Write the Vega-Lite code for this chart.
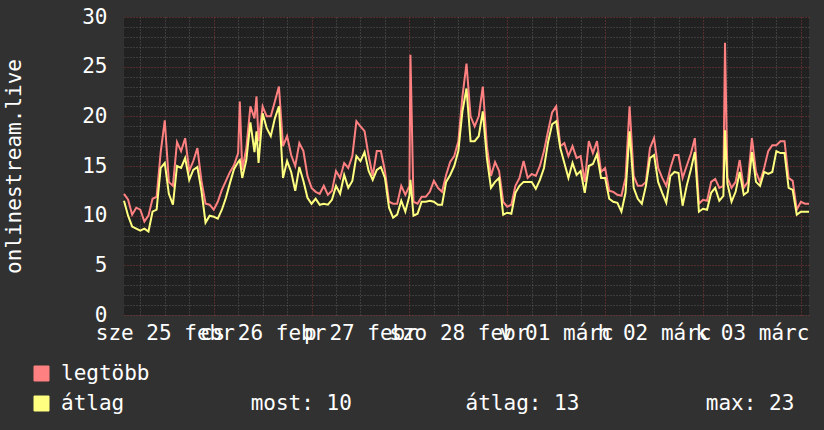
{
"$schema": "https://vega.github.io/schema/vega-lite/v6.json",
"width": 685, "height": 298,
"autosize": {"type": "none"},
"padding": {"left": 124, "top": 17, "right": 15, "bottom": 115},
"background": "#313131",
"config": {"view": {"fill": "#212121", "stroke": null}, "font": "DejaVu Sans Mono"},
"data": {"values": [
{"t":"2015-02-25T02:00","max":12.2,"avg":11.5},
{"t":"2015-02-25T03:00","max":11.6,"avg":10.0},
{"t":"2015-02-25T04:00","max":10.1,"avg":8.9},
{"t":"2015-02-25T05:00","max":10.8,"avg":8.7},
{"t":"2015-02-25T06:00","max":10.6,"avg":8.5},
{"t":"2015-02-25T07:00","max":9.4,"avg":8.7},
{"t":"2015-02-25T08:00","max":10.0,"avg":8.4},
{"t":"2015-02-25T09:00","max":11.7,"avg":10.4},
{"t":"2015-02-25T10:00","max":11.9,"avg":10.6},
{"t":"2015-02-25T11:00","max":16.4,"avg":14.8},
{"t":"2015-02-25T12:00","max":19.6,"avg":15.3},
{"t":"2015-02-25T13:00","max":13.4,"avg":12.2},
{"t":"2015-02-25T14:00","max":13.0,"avg":11.1},
{"t":"2015-02-25T15:00","max":17.4,"avg":15.0},
{"t":"2015-02-25T16:00","max":16.5,"avg":14.8},
{"t":"2015-02-25T17:00","max":17.8,"avg":15.8},
{"t":"2015-02-25T18:00","max":14.5,"avg":13.6},
{"t":"2015-02-25T19:00","max":15.5,"avg":14.6},
{"t":"2015-02-25T20:00","max":16.8,"avg":14.9},
{"t":"2015-02-25T21:00","max":13.5,"avg":12.5},
{"t":"2015-02-25T22:00","max":11.2,"avg":9.3},
{"t":"2015-02-25T23:00","max":11.1,"avg":10.0},
{"t":"2015-02-26T00:00","max":10.6,"avg":9.9},
{"t":"2015-02-26T01:00","max":11.4,"avg":9.7},
{"t":"2015-02-26T02:00","max":12.6,"avg":10.6},
{"t":"2015-02-26T03:00","max":13.5,"avg":11.8},
{"t":"2015-02-26T04:00","max":14.4,"avg":13.3},
{"t":"2015-02-26T05:00","max":15.1,"avg":14.7},
{"t":"2015-02-26T06:00","max":16.3,"avg":15.4},
{"t":"2015-02-26T06:24","max":21.5,"avg":15.6},
{"t":"2015-02-26T07:00","max":14.6,"avg":13.8},
{"t":"2015-02-26T08:00","max":16.8,"avg":15.6},
{"t":"2015-02-26T09:00","max":21.0,"avg":19.4},
{"t":"2015-02-26T10:00","max":19.8,"avg":16.4},
{"t":"2015-02-26T10:30","max":22.0,"avg":18.5},
{"t":"2015-02-26T11:00","max":17.5,"avg":15.3},
{"t":"2015-02-26T12:00","max":21.0,"avg":20.3},
{"t":"2015-02-26T13:00","max":20.0,"avg":18.8},
{"t":"2015-02-26T14:00","max":20.0,"avg":18.0},
{"t":"2015-02-26T15:00","max":21.5,"avg":19.8},
{"t":"2015-02-26T16:00","max":23.0,"avg":21.0},
{"t":"2015-02-26T17:00","max":17.0,"avg":13.8},
{"t":"2015-02-26T18:00","max":18.0,"avg":15.5},
{"t":"2015-02-26T19:00","max":16.1,"avg":14.4},
{"t":"2015-02-26T20:00","max":15.0,"avg":12.5},
{"t":"2015-02-26T21:00","max":17.3,"avg":14.9},
{"t":"2015-02-26T22:00","max":16.5,"avg":13.5},
{"t":"2015-02-26T23:00","max":14.0,"avg":11.8},
{"t":"2015-02-27T00:00","max":12.8,"avg":11.2},
{"t":"2015-02-27T01:00","max":12.4,"avg":11.7},
{"t":"2015-02-27T02:00","max":12.2,"avg":11.1},
{"t":"2015-02-27T03:00","max":13.0,"avg":11.2},
{"t":"2015-02-27T04:00","max":12.1,"avg":11.1},
{"t":"2015-02-27T05:00","max":12.5,"avg":11.6},
{"t":"2015-02-27T06:00","max":14.5,"avg":13.0},
{"t":"2015-02-27T07:00","max":13.8,"avg":12.2},
{"t":"2015-02-27T08:00","max":15.3,"avg":14.1},
{"t":"2015-02-27T09:00","max":14.8,"avg":12.8},
{"t":"2015-02-27T10:00","max":16.0,"avg":13.5},
{"t":"2015-02-27T11:00","max":19.5,"avg":16.0},
{"t":"2015-02-27T12:00","max":19.0,"avg":15.5},
{"t":"2015-02-27T13:00","max":18.5,"avg":16.4},
{"t":"2015-02-27T14:00","max":16.0,"avg":14.5},
{"t":"2015-02-27T15:00","max":14.0,"avg":13.6},
{"t":"2015-02-27T16:00","max":16.5,"avg":14.6},
{"t":"2015-02-27T17:00","max":16.5,"avg":14.9},
{"t":"2015-02-27T18:00","max":14.5,"avg":13.8},
{"t":"2015-02-27T19:00","max":11.4,"avg":10.8},
{"t":"2015-02-27T20:00","max":11.2,"avg":9.8},
{"t":"2015-02-27T21:00","max":11.2,"avg":10.1},
{"t":"2015-02-27T22:00","max":13.0,"avg":11.5},
{"t":"2015-02-27T23:00","max":12.1,"avg":10.4},
{"t":"2015-02-28T00:00","max":13.0,"avg":12.0},
{"t":"2015-02-28T00:15","max":26.2,"avg":13.6},
{"t":"2015-02-28T01:00","max":11.4,"avg":10.0},
{"t":"2015-02-28T02:00","max":11.2,"avg":10.2},
{"t":"2015-02-28T03:00","max":11.9,"avg":11.4},
{"t":"2015-02-28T04:00","max":11.9,"avg":11.4},
{"t":"2015-02-28T05:00","max":12.4,"avg":11.5},
{"t":"2015-02-28T06:00","max":13.5,"avg":11.4},
{"t":"2015-02-28T07:00","max":12.8,"avg":11.1},
{"t":"2015-02-28T08:00","max":12.4,"avg":11.1},
{"t":"2015-02-28T09:00","max":14.1,"avg":13.4},
{"t":"2015-02-28T10:00","max":15.4,"avg":14.1},
{"t":"2015-02-28T11:00","max":16.0,"avg":15.0},
{"t":"2015-02-28T12:00","max":17.5,"avg":16.5},
{"t":"2015-02-28T13:00","max":22.0,"avg":20.5},
{"t":"2015-02-28T14:00","max":25.3,"avg":22.8},
{"t":"2015-02-28T15:00","max":20.0,"avg":17.5},
{"t":"2015-02-28T16:00","max":19.0,"avg":17.5},
{"t":"2015-02-28T17:00","max":20.0,"avg":18.0},
{"t":"2015-02-28T18:00","max":23.0,"avg":20.5},
{"t":"2015-02-28T19:00","max":17.0,"avg":15.8},
{"t":"2015-02-28T20:00","max":14.0,"avg":12.8},
{"t":"2015-02-28T21:00","max":15.4,"avg":13.4},
{"t":"2015-02-28T22:00","max":14.5,"avg":13.8},
{"t":"2015-02-28T23:00","max":11.4,"avg":10.1},
{"t":"2015-03-01T00:00","max":10.9,"avg":10.3},
{"t":"2015-03-01T01:00","max":11.1,"avg":10.2},
{"t":"2015-03-01T02:00","max":13.0,"avg":12.3},
{"t":"2015-03-01T03:00","max":13.8,"avg":13.0},
{"t":"2015-03-01T04:00","max":15.5,"avg":13.4},
{"t":"2015-03-01T05:00","max":13.8,"avg":13.4},
{"t":"2015-03-01T06:00","max":14.2,"avg":13.4},
{"t":"2015-03-01T07:00","max":14.0,"avg":12.7},
{"t":"2015-03-01T08:00","max":15.0,"avg":13.6},
{"t":"2015-03-01T09:00","max":16.5,"avg":14.8},
{"t":"2015-03-01T10:00","max":18.5,"avg":17.4},
{"t":"2015-03-01T11:00","max":20.4,"avg":19.2},
{"t":"2015-03-01T12:00","max":21.0,"avg":19.5},
{"t":"2015-03-01T13:00","max":17.0,"avg":16.8},
{"t":"2015-03-01T14:00","max":17.3,"avg":15.3},
{"t":"2015-03-01T15:00","max":16.0,"avg":13.8},
{"t":"2015-03-01T16:00","max":17.0,"avg":15.3},
{"t":"2015-03-01T17:00","max":15.8,"avg":14.1},
{"t":"2015-03-01T18:00","max":16.0,"avg":14.5},
{"t":"2015-03-01T19:00","max":13.4,"avg":12.3},
{"t":"2015-03-01T20:00","max":17.5,"avg":15.0},
{"t":"2015-03-01T21:00","max":16.3,"avg":15.2},
{"t":"2015-03-01T22:00","max":17.5,"avg":16.2},
{"t":"2015-03-01T23:00","max":14.4,"avg":13.8},
{"t":"2015-03-02T00:00","max":14.8,"avg":13.8},
{"t":"2015-03-02T01:00","max":12.5,"avg":11.7},
{"t":"2015-03-02T02:00","max":12.4,"avg":11.4},
{"t":"2015-03-02T03:00","max":12.1,"avg":11.3},
{"t":"2015-03-02T04:00","max":12.0,"avg":10.4},
{"t":"2015-03-02T05:00","max":13.8,"avg":12.3},
{"t":"2015-03-02T06:00","max":21.0,"avg":18.5},
{"t":"2015-03-02T07:00","max":14.0,"avg":12.8},
{"t":"2015-03-02T08:00","max":13.0,"avg":11.7},
{"t":"2015-03-02T09:00","max":13.0,"avg":11.2},
{"t":"2015-03-02T10:00","max":13.4,"avg":13.0},
{"t":"2015-03-02T11:00","max":16.8,"avg":15.8},
{"t":"2015-03-02T12:00","max":17.8,"avg":16.1},
{"t":"2015-03-02T13:00","max":14.8,"avg":13.4},
{"t":"2015-03-02T14:00","max":13.8,"avg":12.3},
{"t":"2015-03-02T15:00","max":13.0,"avg":11.3},
{"t":"2015-03-02T16:00","max":14.8,"avg":14.0},
{"t":"2015-03-02T17:00","max":16.1,"avg":14.4},
{"t":"2015-03-02T18:00","max":16.1,"avg":14.3},
{"t":"2015-03-02T19:00","max":13.8,"avg":11.0},
{"t":"2015-03-02T20:00","max":15.0,"avg":13.0},
{"t":"2015-03-02T21:00","max":16.2,"avg":14.6},
{"t":"2015-03-02T22:00","max":17.8,"avg":16.4},
{"t":"2015-03-02T23:00","max":11.2,"avg":10.4},
{"t":"2015-03-03T00:00","max":11.6,"avg":10.7},
{"t":"2015-03-03T01:00","max":11.5,"avg":10.6},
{"t":"2015-03-03T02:00","max":13.4,"avg":12.3},
{"t":"2015-03-03T03:00","max":13.7,"avg":12.8},
{"t":"2015-03-03T04:00","max":12.8,"avg":11.5},
{"t":"2015-03-03T05:00","max":13.0,"avg":12.0},
{"t":"2015-03-03T05:24","max":27.4,"avg":18.6},
{"t":"2015-03-03T06:00","max":13.8,"avg":13.2},
{"t":"2015-03-03T07:00","max":12.8,"avg":11.4},
{"t":"2015-03-03T08:00","max":13.4,"avg":12.4},
{"t":"2015-03-03T09:00","max":15.6,"avg":14.4},
{"t":"2015-03-03T10:00","max":12.8,"avg":12.1},
{"t":"2015-03-03T11:00","max":13.4,"avg":12.4},
{"t":"2015-03-03T12:00","max":17.8,"avg":16.4},
{"t":"2015-03-03T13:00","max":14.4,"avg":13.4},
{"t":"2015-03-03T14:00","max":13.4,"avg":13.0},
{"t":"2015-03-03T15:00","max":14.8,"avg":14.4},
{"t":"2015-03-03T16:00","max":16.5,"avg":14.2},
{"t":"2015-03-03T17:00","max":17.1,"avg":14.4},
{"t":"2015-03-03T18:00","max":17.1,"avg":16.5},
{"t":"2015-03-03T19:00","max":17.5,"avg":16.3},
{"t":"2015-03-03T20:00","max":17.5,"avg":16.3},
{"t":"2015-03-03T21:00","max":13.8,"avg":12.8},
{"t":"2015-03-03T22:00","max":13.5,"avg":12.6},
{"t":"2015-03-03T23:00","max":10.6,"avg":10.1},
{"t":"2015-03-04T00:00","max":11.4,"avg":10.4},
{"t":"2015-03-04T01:00","max":11.2,"avg":10.4},
{"t":"2015-03-04T02:00","max":11.2,"avg":10.4}
]},
"transform": [{"fold": ["max", "avg"], "as": ["series", "value"]}],
"resolve": {"axis": {"x": "independent", "y": "independent"}},
"layer": [
{
  "mark": {"type": "line", "strokeOpacity": 0, "strokeWidth": 0},
  "encoding": {
    "x": {"field": "t", "type": "temporal",
      "scale": {"domain": ["2015-02-25T02:00", "2015-03-04T02:00"], "nice": false},
      "axis": {"orient": "bottom", "title": null, "labels": false, "ticks": false, "domain": false,
        "grid": true, "gridColor": "#5a5a5a", "gridDash": [1, 2],
        "values": ["2015-02-25T06:00","2015-02-25T12:00","2015-02-25T18:00","2015-02-26T06:00","2015-02-26T12:00","2015-02-26T18:00","2015-02-27T06:00","2015-02-27T12:00","2015-02-27T18:00","2015-02-28T06:00","2015-02-28T12:00","2015-02-28T18:00","2015-03-01T06:00","2015-03-01T12:00","2015-03-01T18:00","2015-03-02T06:00","2015-03-02T12:00","2015-03-02T18:00","2015-03-03T06:00","2015-03-03T12:00","2015-03-03T18:00"]}},
    "y": {"field": "value", "type": "quantitative",
      "scale": {"domain": [0, 30], "nice": false},
      "axis": {"orient": "left", "title": null, "labels": false, "ticks": false, "domain": false,
        "grid": true, "gridColor": "#5a5a5a", "gridDash": [1, 2],
        "values": [1,2,3,4,6,7,8,9,11,12,13,14,16,17,18,19,21,22,23,24,26,27,28,29]}}
  }
},
{
  "mark": {"type": "line", "strokeOpacity": 0, "strokeWidth": 0},
  "encoding": {
    "x": {"field": "t", "type": "temporal",
      "axis": {"orient": "bottom", "title": null, "labels": false, "ticks": false, "domain": false,
        "grid": true, "gridColor": "#8a3a3a", "gridDash": [1, 2],
        "values": ["2015-02-26T00:00","2015-02-27T00:00","2015-02-28T00:00","2015-03-01T00:00","2015-03-02T00:00","2015-03-03T00:00","2015-03-04T00:00"]}},
    "y": {"field": "value", "type": "quantitative",
      "axis": {"orient": "left", "title": null, "labels": false, "ticks": false, "domain": false,
        "grid": true, "gridColor": "#8a3a3a", "gridDash": [1, 2],
        "values": [0, 5, 10, 15, 20, 25, 30]}}
  }
},
{
  "mark": {"type": "line", "strokeWidth": 2, "interpolate": "linear"},
  "encoding": {
    "x": {"field": "t", "type": "temporal",
      "axis": {"orient": "bottom", "title": null, "grid": false, "domain": false, "ticks": false, "tickSize": 0,
        "values": ["2015-02-25T12:00","2015-02-26T12:00","2015-02-27T12:00","2015-02-28T12:00","2015-03-01T12:00","2015-03-02T12:00","2015-03-03T12:00"],
        "labelExpr": "(day(datum.value) == 0 ? 'v' : day(datum.value) == 1 ? 'h' : day(datum.value) == 2 ? 'k' : day(datum.value) == 3 ? 'sze' : day(datum.value) == 4 ? 'cs' : day(datum.value) == 5 ? 'p' : 'szo') + ' ' + timeFormat(datum.value, '%d') + ' ' + (month(datum.value) == 1 ? 'febr' : 'márc')",
        "labelOverlap": false, "labelBound": false, "labelFlush": false,
        "labelFont": "DejaVu Sans Mono", "labelFontSize": 21, "labelColor": "#ffffff",
        "labelBaseline": "alphabetic", "labelPadding": 24, "labelAlign": "center"}},
    "y": {"field": "value", "type": "quantitative",
      "axis": {"orient": "left", "title": "onlinestream.live", "grid": false, "domain": false, "ticks": false, "tickSize": 0,
        "values": [0, 5, 10, 15, 20, 25, 30],
        "labelOverlap": false, "labelBound": false, "labelFlush": false,
        "labelFont": "DejaVu Sans Mono", "labelFontSize": 21, "labelColor": "#ffffff", "labelPadding": 17,
        "titleFont": "DejaVu Sans Mono", "titleFontSize": 21, "titleFontWeight": "normal", "titleColor": "#ffffff",
        "titleX": -104, "titleY": 149, "titleAngle": -90, "titleBaseline": "alphabetic", "titleAlign": "center"}},
    "color": {"field": "series", "type": "nominal",
      "scale": {"domain": ["max", "avg"], "range": ["#ff8080", "#ffff80"]},
      "legend": {"title": null, "orient": "none", "legendX": -93, "legendY": 346, "direction": "vertical",
        "symbolType": "square", "symbolSize": 225, "symbolStrokeWidth": 1, "symbolStrokeColor": "#000000",
        "symbolFillColor": "#ff8080",
        "labelFont": "DejaVu Sans Mono", "labelFontSize": 21, "labelColor": "#ffffff", "labelOffset": 9,
        "labelLimit": 1000, "rowPadding": 8, "padding": 0,
        "labelExpr": "datum.value == 'max' ? 'legtöbb' : 'átlag\u00a0\u00a0\u00a0\u00a0\u00a0\u00a0\u00a0\u00a0\u00a0\u00a0most: 10\u00a0\u00a0\u00a0\u00a0\u00a0\u00a0\u00a0\u00a0\u00a0átlag: 13\u00a0\u00a0\u00a0\u00a0\u00a0\u00a0\u00a0\u00a0\u00a0\u00a0max: 23'",
        "encode": {"symbols": {"update": {"fill": {"scale": "color", "field": "value"}, "stroke": {"value": "#000000"}, "strokeWidth": {"value": 1}, "fillOpacity": {"value": 1}, "opacity": {"value": 1}}}}}}
  }
}
]
}
